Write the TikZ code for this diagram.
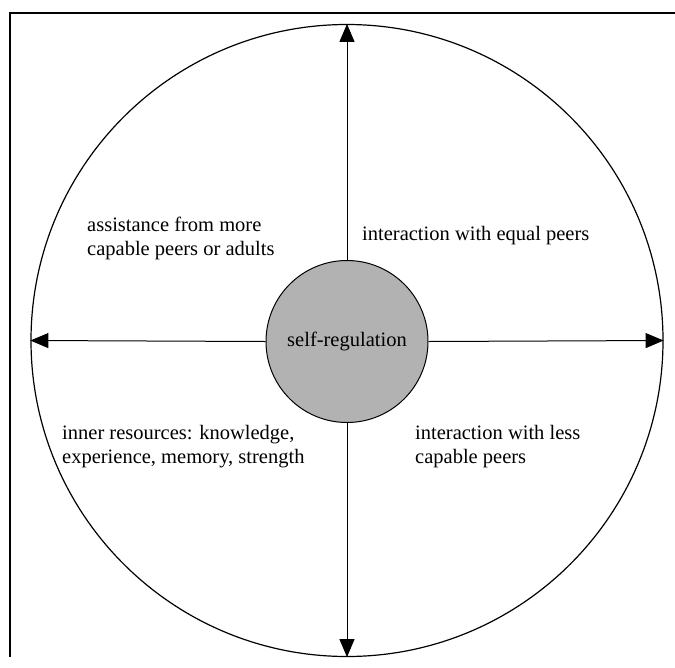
\documentclass[tikz,border=0pt]{standalone}
\usepackage{fontspec}
\setmainfont{Liberation Serif}
\usetikzlibrary{arrows.meta}
\begin{document}
\begin{tikzpicture}[x=1pt,y=-1pt,
  label/.style={font=\fontsize{20.5}{24}\selectfont, inner sep=0pt, anchor=base west, align=left},
  spoke/.style={line width=1pt, -{Triangle[length=18pt,width=15pt]}},
  frameline/.style={line width=2.6pt}]
  \useasboundingbox (0,0) rectangle (675,667);
  % page frame (top and left edges)
  \coordinate (fa) at (10,13);
  \coordinate (fb) at (675,13);
  \coordinate (fc) at (10,657);
  \draw[frameline] (fb) -- (fa) -- (fc);
  % outer ring and central disc
  \node[circle, draw, line width=1.2pt, minimum size=632pt, inner sep=0pt] (rim) at (347,340.5) {};
  \node[circle, draw, line width=1pt, fill=black!30, minimum size=162pt, inner sep=0pt,
        font=\fontsize{20.5}{24}\selectfont] (core) at (347,341.5) {self-regulation};
  % spokes
  \draw[spoke] (core.north) -- (rim.north);
  \draw[spoke] (core.south) -- (rim.south);
  \draw[spoke] (core.west) -- (rim.west);
  \draw[spoke] (core.east) -- (rim.east);
  % quadrant labels (base anchor sits on the last line)
  \node[label] (tl) at (87,255) {assistance from more\\capable peers or adults};
  \node[label] (tr) at (362,240) {interaction with equal peers};
  \node[label] (bl) at (62,463) {inner resources: knowledge,\\experience, memory, strength};
  \node[label] (br) at (415,463) {interaction with less\\capable peers};
\end{tikzpicture}
\end{document}
